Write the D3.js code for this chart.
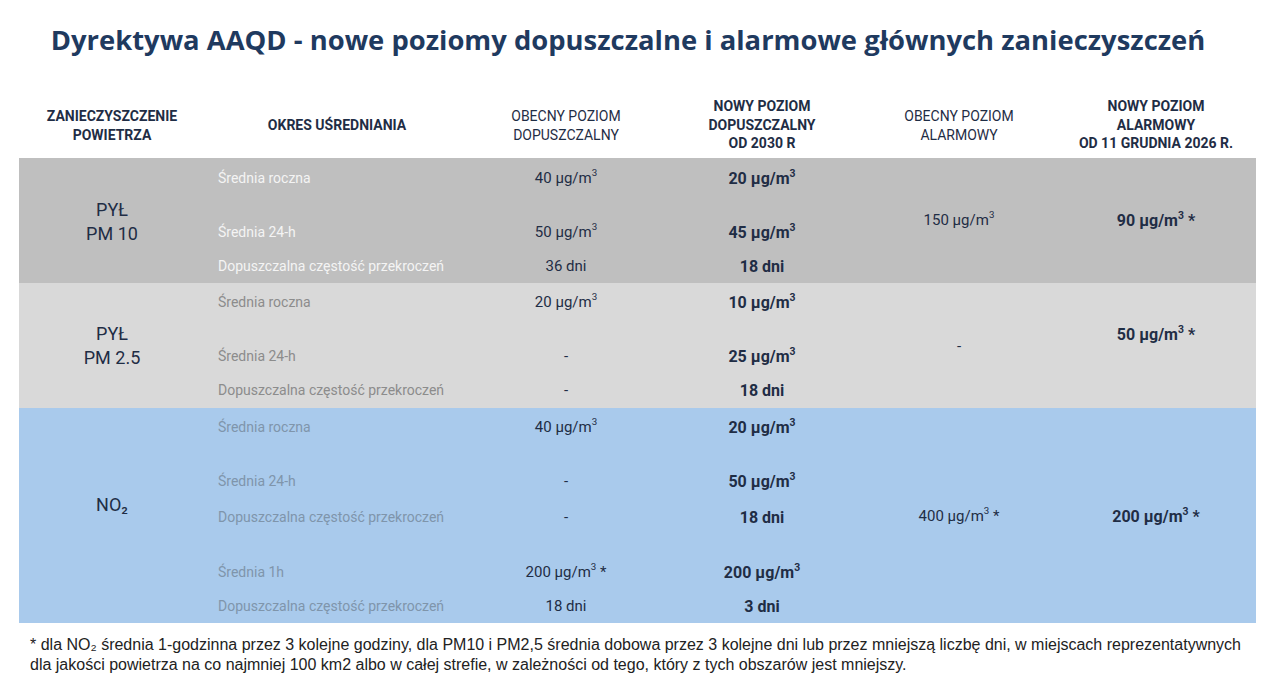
<!DOCTYPE html>
<html><head><meta charset="utf-8">
<script src="https://cdn.jsdelivr.net/npm/d3@7"></script>
<style>body{margin:0;background:#fff}svg{display:block}</style>
</head><body><svg id="c" width="1280" height="696"></svg>
<script>
const title = "Dyrektywa AAQD - nowe poziomy dopuszczalne i alarmowe głównych zanieczyszczeń";
const headers = [
  {lines:["ZANIECZYSZCZENIE","POWIETRZA"], bold:true},
  {lines:["OKRES UŚREDNIANIA"], bold:true},
  {lines:["OBECNY POZIOM","DOPUSZCZALNY"], bold:false},
  {lines:["NOWY POZIOM","DOPUSZCZALNY","OD 2030 R"], bold:true},
  {lines:["OBECNY POZIOM","ALARMOWY"], bold:false},
  {lines:["NOWY POZIOM","ALARMOWY","OD 11 GRUDNIA 2026 R."], bold:true}
];
const groups = [
  {name:["PYŁ","PM 10"], fill:"#bfbfbf", labelColor:"#f4f4f4", rows:[0,1,2], alarmNow:"150 µg/m³", alarmNew:"90 µg/m³ *"},
  {name:["PYŁ","PM 2.5"], fill:"#d9d9d9", labelColor:"#8c8c8c", rows:[3,4,5], alarmNow:"-", alarmNew:"50 µg/m³ *"},
  {name:["NO₂"], fill:"#a9caec", labelColor:"#7f95ab", rows:[6,7,8,9,10], alarmNow:"400 µg/m³ *", alarmNew:"200 µg/m³ *"}
];
const periods = ["Średnia roczna","Średnia 24-h","Dopuszczalna częstość przekroczeń",
  "Średnia roczna","Średnia 24-h","Dopuszczalna częstość przekroczeń",
  "Średnia roczna","Średnia 24-h","Dopuszczalna częstość przekroczeń","Średnia 1h","Dopuszczalna częstość przekroczeń"];
const currentLimit = ["40 µg/m³","50 µg/m³","36 dni","20 µg/m³","-","-","40 µg/m³","-","-","200 µg/m³ *","18 dni"];
const newLimit = ["20 µg/m³","45 µg/m³","18 dni","10 µg/m³","25 µg/m³","18 dni","20 µg/m³","50 µg/m³","18 dni","200 µg/m³","3 dni"];
const footnote = ["* dla NO₂ średnia 1-godzinna przez 3 kolejne godziny, dla PM10 i PM2,5 średnia dobowa przez 3 kolejne dni lub przez mniejszą liczbę dni, w miejscach reprezentatywnych",
  "dla jakości powietrza na co najmniej 100 km2 albo w całej strefie, w zależności od tego, który z tych obszarów jest mniejszy."];

const svg = d3.select("#c");
const F = "'Liberation Sans Narrow','Roboto',sans-serif";
const dark = "#1f2d45";
const colX = d3.scaleOrdinal().domain([0,1,2,3,4,5]).range([112,218,566,762,959,1156]);
const rowY = d3.scaleOrdinal().domain(d3.range(11)).range([178,232,266,302,356,390,427,481,517,572,606]);
const bandY = d3.scaleOrdinal().domain([0,1,2]).range([[158,283],[283,408],[408,623]]);
const nameY = d3.scaleOrdinal().domain([0,1,2]).range([[210,234],[334,358],[505]]);
const alarmY = d3.scaleOrdinal().domain([0,1,2]).range([220,346,516]);
const alarmNewY = d3.scaleOrdinal().domain([0,1,2]).range([220,334,516]);

svg.append("text").attr("x",628).attr("y",50).attr("text-anchor","middle")
  .attr("font-family","'Open Sans',sans-serif").attr("font-weight",700).attr("font-size",27.4)
  .attr("fill","#1f3a5f").text(title);

headers.forEach((h,i)=>{
  const n=h.lines.length, y0 = n===3?111:(n===2?121:130);
  const t=svg.append("text").attr("x",i===1?337:colX(i)).attr("text-anchor","middle")
    .attr("font-family",F).attr("font-size",14).attr("font-weight",h.bold?700:400).attr("fill",dark);
  h.lines.forEach((l,j)=>t.append("tspan").attr("x",i===1?337:colX(i)).attr("y",y0+j*18.5).text(l));
});

function valText(sel, s){
  const m = s.match(/^(.*?)³(.*)$/);
  if(!m){ sel.text(s); return; }
  sel.append("tspan").text(m[1]);
  sel.append("tspan").attr("dy",-7).attr("font-size","0.65em").text("3");
  sel.append("tspan").attr("dy",7).text(m[2]);
}

groups.forEach((g,gi)=>{
  const [y0,y1]=bandY(gi);
  svg.append("rect").attr("x",19).attr("y",y0).attr("width",1237).attr("height",y1-y0).attr("fill",g.fill);
  const nm=svg.append("text").attr("text-anchor","middle").attr("font-family",F).attr("font-size",18).attr("fill",dark);
  g.name.forEach((l,j)=>nm.append("tspan").attr("x",colX(0)).attr("y",nameY(gi)[j]+6).text(l));
  g.rows.forEach(r=>{
    const y=rowY(r)+5;
    svg.append("text").attr("x",colX(1)).attr("y",y).attr("font-family",F).attr("font-size",14).attr("fill",g.labelColor).text(periods[r]);
    svg.append("text").attr("x",colX(2)).attr("y",y).attr("text-anchor","middle").attr("font-family",F).attr("font-size",15).attr("fill",dark).call(valText,currentLimit[r]);
    svg.append("text").attr("x",colX(3)).attr("y",y+1).attr("text-anchor","middle").attr("font-family",F).attr("font-size",16).attr("font-weight",700).attr("fill",dark).call(valText,newLimit[r]);
  });
  svg.append("text").attr("x",colX(4)).attr("y",alarmY(gi)+5).attr("text-anchor","middle").attr("font-family",F).attr("font-size",15).attr("fill",dark).call(valText,g.alarmNow);
  svg.append("text").attr("x",colX(5)).attr("y",alarmNewY(gi)+6).attr("text-anchor","middle").attr("font-family",F).attr("font-size",16).attr("font-weight",700).attr("fill",dark).call(valText,g.alarmNew);
});

footnote.forEach((l,i)=>svg.append("text").attr("x",30).attr("y",650+i*20).attr("font-family","'Liberation Sans',sans-serif")
  .attr("font-size",16).attr("fill","#222").text(l));
</script></body></html>
